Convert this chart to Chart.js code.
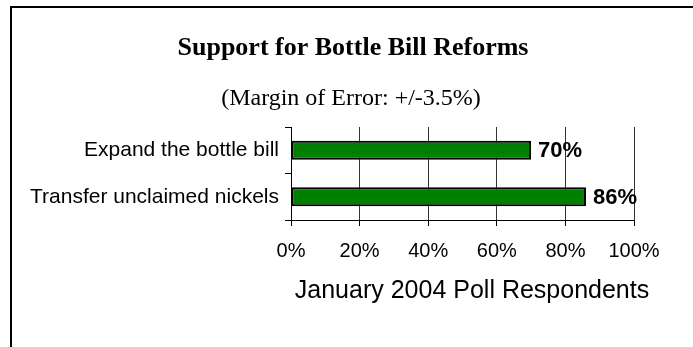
<!DOCTYPE html>
<html>
<head>
<meta charset="utf-8">
<script src="https://cdn.jsdelivr.net/npm/chart.js@4/dist/chart.umd.min.js"></script>
<style>
  html, body { margin: 0; padding: 0; background: #fff; }
  #wrap { width: 693px; height: 347px; }
</style>
</head>
<body>
<div id="wrap"><canvas id="pollChart" width="693" height="347"></canvas></div>
<script>
// Poll results
const categories = ['Expand the bottle bill', 'Transfer unclaimed nickels'];
const supportPct = [70, 86];
const xTicks = [0, 20, 40, 60, 80, 100];

const chartTitle = 'Support for Bottle Bill Reforms';
const chartSubtitle = '(Margin of Error: +/-3.5%)';
const axisTitle = 'January 2004 Poll Respondents';

const SANS = 'Arial, "Liberation Sans", sans-serif';
const SERIF = '"Times New Roman", "Liberation Serif", serif';

// white page, frame lines, headings and the axis caption
const framePlugin = {
    id: 'frame',
    beforeDraw(chart) {
        const ctx = chart.ctx;
        ctx.save();
        ctx.fillStyle = '#fff';
        ctx.fillRect(0, 0, chart.width, chart.height);
        ctx.strokeStyle = '#000';
        ctx.lineWidth = 2;
        ctx.beginPath();
        ctx.moveTo(11, chart.height);
        ctx.lineTo(11, 7);
        ctx.lineTo(chart.width, 7);
        ctx.stroke();

        ctx.fillStyle = '#000';
        ctx.textAlign = 'center';
        ctx.textBaseline = 'alphabetic';
        ctx.font = 'bold 26px ' + SERIF;
        ctx.fillText(chartTitle, 353, 55);
        ctx.font = '24px ' + SERIF;
        ctx.fillText(chartSubtitle, 351, 105);

        ctx.font = '25px ' + SANS;
        ctx.fillText(axisTitle, 472, 298);
        ctx.restore();
    }
};

// percentage written after the end of each bar
const valueLabels = {
    id: 'valueLabels',
    afterDatasetsDraw(chart) {
        const ctx = chart.ctx;
        const meta = chart.getDatasetMeta(0);
        ctx.save();
        ctx.fillStyle = '#000';
        ctx.font = 'bold 22px ' + SANS;
        ctx.textAlign = 'left';
        ctx.textBaseline = 'middle';
        meta.data.forEach(function (bar, i) {
            ctx.fillText(supportPct[i] + '%', bar.x + 7, bar.y + 1);
        });
        ctx.restore();
    }
};

const ctx = document.getElementById('pollChart').getContext('2d');
new Chart(ctx, {
    type: 'bar',
    data: {
        labels: categories,
        datasets: [{
            data: supportPct,
            backgroundColor: '#008000',
            borderColor: '#000',
            borderWidth: 2,
            borderSkipped: false,
            barPercentage: 0.41,
            categoryPercentage: 1
        }]
    },
    options: {
        indexAxis: 'y',
        responsive: false,
        animation: false,
        layout: {
            padding: { top: 127, right: 59, left: 0, bottom: 0 }
        },
        plugins: {
            legend: { display: false },
            tooltip: { enabled: false },
            title: { display: false }
        },
        scales: {
            x: {
                min: 0,
                max: 100,
                afterBuildTicks: function (scale) {
                    scale.ticks = xTicks.map(v => ({ value: v }));
                },
                afterFit: function (scale) {
                    scale.height = 127;
                },
                ticks: {
                    color: '#000',
                    padding: 13,
                    maxRotation: 0,
                    font: { family: SANS, size: 20 },
                    callback: v => v + '%'
                },
                grid: {
                    color: '#333',
                    lineWidth: 1,
                    tickLength: 6,
                    tickColor: '#000'
                },
                border: { color: '#000', width: 1 }
            },
            y: {
                afterFit: function (scale) {
                    scale.width = 291;
                },
                ticks: {
                    color: '#000',
                    padding: 6,
                    font: { family: SANS, size: 21 }
                },
                grid: {
                    drawOnChartArea: false,
                    tickLength: 6,
                    color: '#000'
                },
                border: { color: '#000', width: 1 }
            }
        }
    },
    plugins: [framePlugin, valueLabels]
});
</script>
</body>
</html>
